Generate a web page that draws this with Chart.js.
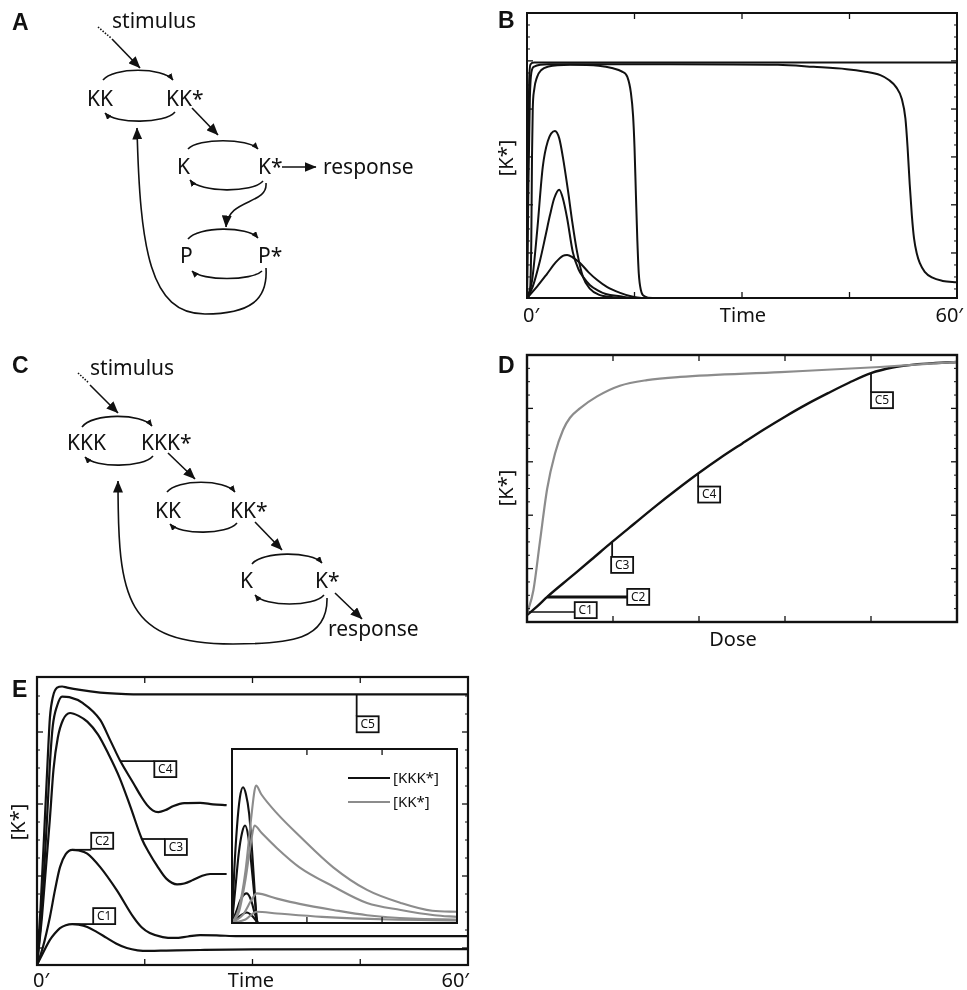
<!DOCTYPE html>
<html>
<head>
<meta charset="utf-8">
<script src="https://cdn.jsdelivr.net/npm/chart.js@4.4.0/dist/chart.umd.min.js"></script>
<style>
body { margin: 0; background: #fff; }
#fig { position: relative; width: 967px; height: 990px; overflow: hidden; background: #fff; }
canvas { position: absolute; }
#over { position: absolute; left: 0; top: 0; pointer-events: none; }
#over text { font-family: "Noto Sans", sans-serif; fill: #111; }
#over .big { font-size: 21px; }
#over .ax { font-size: 20px; }
#over .letter { font-family: "Liberation Sans", Arial, sans-serif; font-weight: bold; font-size: 23px; }
</style>
</head>
<body>
<div id="fig">
  <canvas id="chartB" width="487" height="330" style="left:480px;top:0px"></canvas>
  <canvas id="chartD" width="487" height="340" style="left:480px;top:320px"></canvas>
  <canvas id="chartE" width="480" height="340" style="left:0px;top:650px"></canvas>
  <canvas id="chartInset" width="237" height="186" style="left:226px;top:743px"></canvas>

  <svg id="over" width="967" height="990" viewBox="0 0 967 990">
    <defs>
      <marker id="big" viewBox="0 0 12 10" refX="11.5" refY="5" markerWidth="12" markerHeight="10" markerUnits="userSpaceOnUse" orient="auto">
        <path d="M0,0 L12,5 L0,10 z" fill="#111"/>
      </marker>
      <marker id="sm" viewBox="0 0 7 6" refX="6.5" refY="3" markerWidth="7" markerHeight="6" markerUnits="userSpaceOnUse" orient="auto">
        <path d="M0,0 L7,3 L0,6 z" fill="#111"/>
      </marker>
    </defs>

    <!-- panel letters -->
    <text class="letter" x="12" y="30">A</text>
    <text class="letter" x="498" y="28">B</text>
    <text class="letter" x="12" y="373">C</text>
    <text class="letter" x="498" y="373">D</text>
    <text class="letter" x="12" y="697">E</text>

    <!-- A: two-tier cascade with phosphatase feedback -->
    <g fill="none" stroke="#111" stroke-width="1.6">
      <path d="M98,27 L111,38" stroke-dasharray="1.5,1.5"/>
      <path d="M112,39 L140,68" marker-end="url(#big)"/>
      <path d="M103,80 C113,67 163,67 173,80" marker-end="url(#sm)"/>
      <path d="M175,112 C165,124 115,124 105,113" marker-end="url(#sm)"/>
      <path d="M192,108 L218,135" marker-end="url(#big)"/>
      <path d="M188,149 C198,138 248,138 258,149" marker-end="url(#sm)"/>
      <path d="M263,181 C253,193 200,193 190,180" marker-end="url(#sm)"/>
      <path d="M282,167 L316,167" marker-end="url(#big)"/>
      <path d="M266,183 C268,205 228,198 226,227" marker-end="url(#big)"/>
      <path d="M188,239 C198,226 248,226 258,238" marker-end="url(#sm)"/>
      <path d="M262,271 C252,281 202,281 192,271" marker-end="url(#sm)"/>
      <path d="M266,268 C268,300 250,314 205,314 C150,314 140,250 137,128" marker-end="url(#big)"/>
    </g>
    <text class="big" x="112" y="28">stimulus</text>
    <text class="big" x="87" y="106">KK</text>
    <text class="big" x="166" y="106">KK*</text>
    <text class="big" x="177" y="174">K</text>
    <text class="big" x="258" y="174">K*</text>
    <text class="big" x="323" y="174">response</text>
    <text class="big" x="180" y="263">P</text>
    <text class="big" x="258" y="263">P*</text>

    <!-- C: three-tier cascade with direct feedback -->
    <g fill="none" stroke="#111" stroke-width="1.6">
      <path d="M78,373 L89,383" stroke-dasharray="1.5,1.5"/>
      <path d="M90,385 L118,413" marker-end="url(#big)"/>
      <path d="M82,427 C92,413 142,413 152,426" marker-end="url(#sm)"/>
      <path d="M153,456 C143,468 95,468 85,457" marker-end="url(#sm)"/>
      <path d="M168,453 L195,479" marker-end="url(#big)"/>
      <path d="M167,492 C177,479 225,479 235,492" marker-end="url(#sm)"/>
      <path d="M237,523 C227,535 180,535 170,524" marker-end="url(#sm)"/>
      <path d="M255,522 L282,550" marker-end="url(#big)"/>
      <path d="M252,564 C262,551 312,551 322,563" marker-end="url(#sm)"/>
      <path d="M324,595 C314,607 265,607 255,595" marker-end="url(#sm)"/>
      <path d="M335,593 L362,619" marker-end="url(#big)"/>
      <path d="M327,598 C328,640 290,644 233,644 C125,644 118,600 118,481" marker-end="url(#big)"/>
    </g>
    <text class="big" x="90" y="375">stimulus</text>
    <text class="big" x="67" y="450">KKK</text>
    <text class="big" x="141" y="450">KKK*</text>
    <text class="big" x="155" y="518">KK</text>
    <text class="big" x="230" y="518">KK*</text>
    <text class="big" x="240" y="588">K</text>
    <text class="big" x="315" y="588">K*</text>
    <text class="big" x="328" y="636">response</text>

    <!-- axis labels -->
    <text class="ax" x="523" y="322">0′</text>
    <text class="ax" x="743" y="322" text-anchor="middle">Time</text>
    <text class="ax" x="963" y="322" text-anchor="end">60′</text>
    <text class="ax" transform="translate(513,158) rotate(-90)" text-anchor="middle">[K*]</text>

    <text class="ax" x="733" y="646" text-anchor="middle">Dose</text>
    <text class="ax" transform="translate(513,488) rotate(-90)" text-anchor="middle">[K*]</text>

    <text class="ax" x="33" y="987">0′</text>
    <text class="ax" x="251" y="987" text-anchor="middle">Time</text>
    <text class="ax" x="469" y="987" text-anchor="end">60′</text>
    <text class="ax" transform="translate(25,822) rotate(-90)" text-anchor="middle">[K*]</text>
  </svg>
</div>

<script>
// ---- data (time in minutes, [K*] normalised 0..1) ----

const timeTicks = [15, 30, 45];
const doseTicks = [0.2, 0.4, 0.6, 0.8];
const insetTicks = [0.333, 0.667];
const bMajor = [0.158, 0.327, 0.495, 0.663, 0.832];
const dMajor = [0.2, 0.4, 0.6, 0.8];
const eMajor = [0.059, 0.309, 0.559, 0.809];
const legendNames = ['[KKK*]', '[KK*]'];

// B: responses of the two-tier circuit
const bSustained = [[0, 0], [0.15, 0.5], [0.3, 0.76], [0.5, 0.82], [1, 0.826], [60, 0.826]];
const bLateDrop = [[0, 0], [0.2, 0.4], [0.4, 0.7], [0.6, 0.79], [1, 0.812], [3, 0.82], [20, 0.82], [35, 0.818],
  [40, 0.811], [44.6, 0.803], [47, 0.795], [49.3, 0.782], [50.5, 0.765], [51.5, 0.74], [52.3, 0.698],
  [52.8, 0.63], [53.1, 0.53], [53.4, 0.4], [53.7, 0.29], [54, 0.21], [54.4, 0.155], [54.8, 0.123],
  [55.5, 0.092], [56.5, 0.072], [58, 0.06], [60, 0.055]];
const bEarlyDrop = [[0, 0], [0.4, 0.02], [0.6, 0.2], [0.7, 0.5], [0.8, 0.66], [1, 0.73], [1.4, 0.775],
  [2, 0.8], [3, 0.812], [6, 0.818], [10, 0.815], [12, 0.806], [13.2, 0.795], [14, 0.776], [14.5, 0.72],
  [14.8, 0.64], [15, 0.53], [15.2, 0.36], [15.4, 0.2], [15.6, 0.085], [15.9, 0.027], [16.4, 0.006],
  [17.5, 0], [60, 0]];
const bPulseHigh = [[0, 0], [0.7, 0.06], [1.4, 0.23], [2.2, 0.46], [2.9, 0.55], [3.9, 0.586], [4.5, 0.56],
  [5, 0.495], [5.7, 0.38], [6.3, 0.27], [7, 0.16], [7.8, 0.075], [8.8, 0.032], [10, 0.012], [12, 0.003],
  [14, 0], [60, 0]];
const bPulseMid = [[0, 0], [0.8, 0.04], [1.8, 0.13], [2.6, 0.22], [3.2, 0.29], [3.8, 0.35], [4.5, 0.38],
  [5, 0.35], [5.6, 0.28], [6.4, 0.16], [7.2, 0.1], [7.8, 0.075], [8.8, 0.045], [9.8, 0.028], [11, 0.014],
  [13, 0.006], [15, 0], [60, 0]];
const bPulseLow = [[0, 0], [1.4, 0.04], [2.8, 0.085], [4, 0.125], [5, 0.148], [5.6, 0.151], [6.4, 0.142],
  [7.4, 0.123], [8.6, 0.09], [9.8, 0.063], [11.2, 0.038], [13, 0.018], [14.5, 0.006], [16, 0], [60, 0]];

// D: dose response (dose normalised 0..1)
const dTwoTier = [[0, 0.03], [0.015, 0.12], [0.03, 0.3], [0.047, 0.5], [0.065, 0.63], [0.084, 0.72],
  [0.1, 0.765], [0.123, 0.8], [0.163, 0.845], [0.216, 0.885], [0.279, 0.906], [0.356, 0.918],
  [0.59, 0.936], [0.82, 0.955], [1, 0.974]];
const dThreeTier = [[0, 0.026], [0.025, 0.06], [0.047, 0.094], [0.1, 0.166], [0.15, 0.234], [0.198, 0.3],
  [0.25, 0.369], [0.3, 0.435], [0.35, 0.498], [0.398, 0.556], [0.45, 0.615], [0.5, 0.668], [0.55, 0.72],
  [0.6, 0.769], [0.65, 0.815], [0.7, 0.857], [0.75, 0.897], [0.8, 0.932], [0.85, 0.953], [0.9, 0.964],
  [0.95, 0.97], [1, 0.974]];
const dCallouts = [
  { text: 'C1', t: 0.004, v: 0.037, dir: 'right', dx: 46, dy: -10, w: 1.5 },
  { text: 'C2', t: 0.047, v: 0.094, dir: 'right', dx: 80, dy: -8, w: 3 },
  { text: 'C3', t: 0.198, v: 0.3, dir: 'down', dx: -1, dy: 15, w: 1.8 },
  { text: 'C4', t: 0.398, v: 0.556, dir: 'down', dx: 0, dy: 13, w: 1.8 },
  { text: 'C5', t: 0.8, v: 0.932, dir: 'down', dx: 0, dy: 19, w: 1.8 }
];

// E: three-tier time courses C1..C5
const eC5 = [[0, 0], [0.5, 0.2], [1.1, 0.51], [1.5, 0.72], [1.8, 0.86], [2.2, 0.93], [2.8, 0.963],
  [3.5, 0.967], [4.2, 0.963], [6, 0.955], [8.8, 0.946], [11, 0.942], [13.4, 0.94], [60, 0.94]];
const eC4 = [[0, 0], [0.6, 0.17], [1.4, 0.51], [1.8, 0.7], [2.2, 0.83], [2.8, 0.9], [3.5, 0.932], [4.5, 0.93],
  [6.4, 0.909], [8.8, 0.851], [10.2, 0.78], [11.6, 0.708], [13.4, 0.632], [14.5, 0.585], [15.3, 0.556],
  [16.1, 0.537], [16.9, 0.531], [17.8, 0.537], [19, 0.552], [20.5, 0.562], [22.7, 0.563], [24.5, 0.558],
  [26.4, 0.555]];
const eC3 = [[0, 0], [0.7, 0.17], [1.8, 0.51], [2.3, 0.68], [2.9, 0.79], [3.6, 0.85], [4.6, 0.875],
  [5.8, 0.865], [7, 0.845], [8.5, 0.8], [10, 0.73], [11.5, 0.65], [13, 0.55], [14.6, 0.4375], [15.6, 0.39],
  [16.7, 0.345], [18, 0.3], [19.5, 0.28], [20.5, 0.283], [21.7, 0.295], [23, 0.31], [24.1, 0.316],
  [26.4, 0.316]];
const eC2 = [[0, 0], [0.8, 0.06], [1.8, 0.167], [2.5, 0.26], [3.2, 0.34], [4, 0.385], [4.9, 0.4], [5.8, 0.398],
  [7, 0.387], [8.8, 0.34], [11.1, 0.26], [13.4, 0.167], [14.6, 0.13], [15.7, 0.111], [17.5, 0.097],
  [19.2, 0.094], [21, 0.099], [22.7, 0.104], [25, 0.103], [28, 0.1], [60, 0.1]];
const eC1 = [[0, 0], [0.8, 0.04], [1.8, 0.087], [2.5, 0.11], [3.2, 0.128], [4, 0.138], [4.9, 0.142],
  [5.8, 0.14], [7, 0.132], [8.3, 0.115], [9.7, 0.094], [11, 0.075], [12.5, 0.059], [14, 0.051],
  [15.7, 0.049], [18, 0.05], [22.7, 0.052], [30, 0.054], [60, 0.055]];
const eCallouts = [
  { text: 'C5', t: 44.5, v: 0.94, dir: 'down', dx: 0, dy: 22, w: 1.8 },
  { text: 'C4', t: 11.6, v: 0.708, dir: 'right', dx: 34, dy: 0, w: 1.8 },
  { text: 'C3', t: 14.6, v: 0.4375, dir: 'right', dx: 23, dy: 0, w: 1.8 },
  { text: 'C2', t: 4.9, v: 0.4, dir: 'right', dx: 19, dy: -17, w: 1.8 },
  { text: 'C1', t: 4.9, v: 0.142, dir: 'right', dx: 21, dy: -16, w: 1.8 }
];

// E inset: upstream species (time and level normalised)
const kkk1 = [[0, 0], [0.01, 0.3], [0.022, 0.55], [0.035, 0.72], [0.049, 0.78], [0.062, 0.74], [0.076, 0.63],
  [0.09, 0.4], [0.1, 0.2], [0.11, 0]];
const kkk2 = [[0, 0], [0.015, 0.2], [0.03, 0.4], [0.045, 0.52], [0.058, 0.56], [0.072, 0.5], [0.085, 0.35],
  [0.1, 0.15], [0.112, 0]];
const kkk3 = [[0, 0], [0.02, 0.07], [0.04, 0.14], [0.066, 0.17], [0.085, 0.13], [0.1, 0.06], [0.115, 0]];
const kkk4 = [[0, 0], [0.03, 0.035], [0.066, 0.06], [0.09, 0.04], [0.115, 0]];
const kk1 = [[0, 0], [0.03, 0.08], [0.06, 0.3], [0.085, 0.6], [0.1, 0.76], [0.107, 0.79], [0.13, 0.74],
  [0.2, 0.63], [0.3, 0.5], [0.45, 0.32], [0.6, 0.19], [0.75, 0.115], [0.89, 0.07], [1, 0.065]];
const kk2 = [[0, 0], [0.03, 0.06], [0.06, 0.25], [0.085, 0.47], [0.1, 0.56], [0.13, 0.52], [0.2, 0.43],
  [0.3, 0.32], [0.45, 0.21], [0.6, 0.115], [0.75, 0.075], [0.9, 0.045], [1, 0.035]];
const kk3 = [[0, 0], [0.05, 0.05], [0.09, 0.14], [0.11, 0.17], [0.2, 0.14], [0.3, 0.11], [0.45, 0.075],
  [0.6, 0.045], [0.8, 0.025], [1, 0.02]];
const kk4 = [[0, 0], [0.06, 0.02], [0.11, 0.065], [0.2, 0.055], [0.4, 0.035], [0.7, 0.02], [1, 0.015]];

const INK = '#111';
const GREY = '#8c8c8c';

// frame, inward ticks, boxed callouts and a small legend, all placed through the chart scales
const framePlugin = {
  id: 'frame',
  beforeDatasetsDraw(chart, args, o) {
    if (!o.background) return;
    const a = chart.chartArea, ctx = chart.ctx;
    ctx.save();
    ctx.fillStyle = o.background;
    ctx.fillRect(a.left, a.top, a.width, a.height);
    ctx.restore();
  },
  afterDatasetsDraw(chart, args, o) {
    const { ctx, chartArea: a, scales: { x, y } } = chart;
    const seg = (x1, y1, x2, y2) => { ctx.beginPath(); ctx.moveTo(x1, y1); ctx.lineTo(x2, y2); ctx.stroke(); };
    ctx.save();
    ctx.strokeStyle = INK;
    ctx.lineWidth = 1.3;
    (o.xTicks || []).forEach(v => {
      const px = x.getPixelForValue(v);
      seg(px, a.bottom, px, a.bottom - 6);
      seg(px, a.top, px, a.top + 6);
    });
    const majors = o.yTicks || [];
    majors.forEach(v => {
      const py = y.getPixelForValue(v);
      seg(a.left, py, a.left + 6, py);
      seg(a.right, py, a.right - 6, py);
    });
    if (o.yMinorStep && majors.length) {
      const step = o.yMinorStep;
      let v = majors[0];
      while (v - step > 0) v -= step;
      ctx.lineWidth = 1;
      for (; v < 0.995; v += step) {
        if (majors.some(m => Math.abs(m - v) < step / 3)) continue;
        const py = y.getPixelForValue(v);
        seg(a.left, py, a.left + 3, py);
        seg(a.right, py, a.right - 3, py);
      }
    }
    ctx.lineWidth = o.border || 2;
    ctx.strokeRect(a.left, a.top, a.width, a.height);

    (o.callouts || []).forEach(c => {
      const ax = x.getPixelForValue(c.t), ay = y.getPixelForValue(c.v);
      const bx = ax + c.dx, by = ay + c.dy, bw = 22, bh = 16;
      ctx.lineWidth = c.w;
      if (c.dir === 'down') seg(ax, ay, ax, by);
      else seg(ax, ay, bx, ay);
      ctx.fillStyle = '#fff';
      ctx.fillRect(bx, by, bw, bh);
      ctx.lineWidth = 1.8;
      ctx.strokeRect(bx, by, bw, bh);
      ctx.fillStyle = INK;
      ctx.font = '12px "Noto Sans", sans-serif';
      ctx.textAlign = 'center';
      ctx.textBaseline = 'middle';
      ctx.fillText(c.text, bx + bw / 2, by + bh / 2 + 0.5);
    });

    if (o.legend) {
      const L = o.legend;
      ctx.font = '15px "Noto Sans", sans-serif';
      ctx.textAlign = 'left';
      ctx.textBaseline = 'middle';
      L.names.forEach((name, i) => {
        const ly = a.top + L.y + i * L.gap;
        ctx.strokeStyle = L.colors[i];
        ctx.lineWidth = 2.2;
        seg(a.left + L.x, ly, a.left + L.x + L.len, ly);
        ctx.fillStyle = INK;
        ctx.fillText(name, a.left + L.x + L.len + 3, ly + 1);
      });
    }
    ctx.restore();
  }
};

function curve(points, color, width) {
  return {
    data: points.map(p => ({ x: p[0], y: p[1] })),
    borderColor: color,
    borderWidth: width,
    pointRadius: 0,
    fill: false,
    cubicInterpolationMode: 'monotone'
  };
}

function makeChart(id, datasets, xMax, padding, frame) {
  return new Chart(document.getElementById(id), {
    type: 'line',
    data: { datasets: datasets },
    options: {
      responsive: false,
      animation: false,
      events: [],
      layout: { padding: padding },
      scales: {
        x: { type: 'linear', min: 0, max: xMax, display: false },
        y: { type: 'linear', min: 0, max: 1, display: false }
      },
      plugins: { legend: { display: false }, tooltip: { enabled: false }, frame: frame }
    },
    plugins: [framePlugin]
  });
}

makeChart('chartB', [
  curve(bSustained, INK, 2),
  curve(bLateDrop, INK, 2),
  curve(bEarlyDrop, INK, 2),
  curve(bPulseHigh, INK, 2),
  curve(bPulseMid, INK, 2),
  curve(bPulseLow, INK, 2)
], 60, { left: 47, right: 10, top: 13, bottom: 32 },
  { xTicks: timeTicks, yTicks: bMajor, yMinorStep: 0.0421, border: 2 });

makeChart('chartD', [
  curve(dTwoTier, GREY, 2.2),
  curve(dThreeTier, INK, 2.4)
], 1, { left: 47, right: 10, top: 35, bottom: 38 },
  { xTicks: doseTicks, yTicks: dMajor, yMinorStep: 0.05, border: 2.4, callouts: dCallouts });

makeChart('chartE', [
  curve(eC5, INK, 2.2),
  curve(eC4, INK, 2.2),
  curve(eC3, INK, 2.2),
  curve(eC2, INK, 2.2),
  curve(eC1, INK, 2.2)
], 60, { left: 37, right: 12, top: 27, bottom: 25 },
  { xTicks: timeTicks, yTicks: eMajor, yMinorStep: 0.0625, border: 2.2, callouts: eCallouts });

makeChart('chartInset', [
  curve(kk4, GREY, 2.1),
  curve(kk3, GREY, 2.1),
  curve(kk2, GREY, 2.1),
  curve(kk1, GREY, 2.1),
  curve(kkk4, INK, 2.1),
  curve(kkk3, INK, 2.1),
  curve(kkk2, INK, 2.1),
  curve(kkk1, INK, 2.1)
], 1, { left: 6, right: 6, top: 6, bottom: 6 },
  { xTicks: insetTicks, border: 2, background: '#fff',
    legend: { names: legendNames, colors: [INK, GREY], x: 116, y: 29, gap: 24, len: 42 } });
</script>
</body>
</html>
